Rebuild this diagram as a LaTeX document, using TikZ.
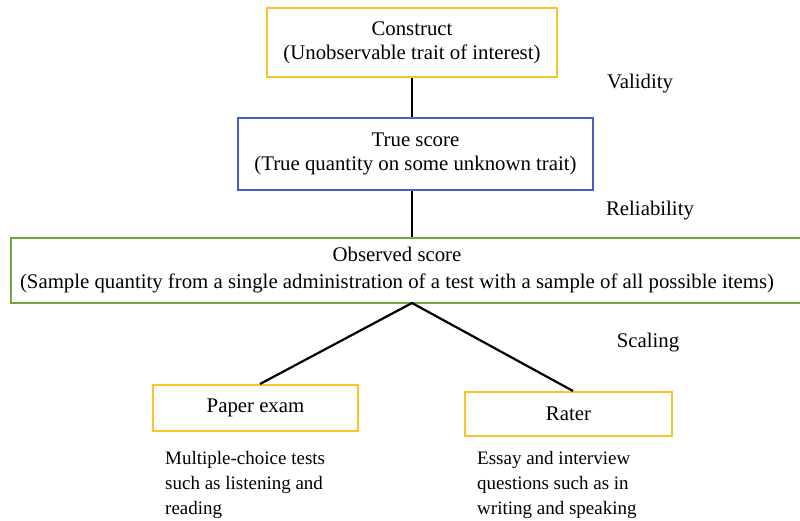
\documentclass[tikz,border=0pt]{standalone}
\usepackage{fontspec}
\setmainfont{Liberation Serif}
\usetikzlibrary{calc}
\definecolor{gold}{RGB}{250,196,40}
\definecolor{blueb}{RGB}{70,95,205}
\definecolor{greenb}{RGB}{112,170,62}
\tikzset{
  box/.style={draw, line width=2bp, minimum width=#1, inner sep=0pt, align=center,
    font=\fontsize{20.8bp}{24bp}\selectfont},
  conn/.style={draw=black, line width=2.2bp},
  lbl/.style={font=\fontsize{20.8bp}{25bp}\selectfont, inner sep=0pt},
  note/.style={font=\fontsize{19bp}{25bp}\selectfont, inner sep=0pt, align=left, anchor=north west}
}
\begin{document}
\begin{tikzpicture}[x=1bp,y=-1bp]
\clip (0,0) rectangle (800,521);
\useasboundingbox (0,0) rectangle (800,521);
\node[box=290bp, minimum height=69bp, draw=gold] (construct) at (412,42.5)
  {Construct\\(Unobservable trait of interest)};
\node[box=355bp, minimum height=72bp, draw=blueb] (true) at (415.5,154)
  {True score\\(True quantity on some unknown trait)};
\node[box=792bp, minimum height=65bp, draw=greenb] (observed) at (407,270.5) {};
\node[lbl, align=center, font=\fontsize{20.8bp}{27bp}\selectfont] (obstext) at (397,270.5)
  {Observed score\\(Sample quantity from a single administration of a test with a sample of all possible items)};
\node[box=205bp, minimum height=46bp, draw=gold] (paper) at (255.5,408) {Paper exam};
\node[box=207bp, minimum height=44bp, draw=gold] (rater) at (568.5,414) {Rater};
\node[lbl] (validity) at (640,84) {Validity};
\node[lbl] (reliability) at (650,211) {Reliability};
\node[lbl] (scaling) at (648,343) {Scaling};
\node[note] (papernote) at (165,451) {Multiple-choice tests\\such as listening and\\reading};
\node[note] (raternote) at (477,451) {Essay and interview\\questions such as in\\writing and speaking};
\coordinate (apex) at (412,303);
\draw[conn] (412,0 |- construct.south) -- (412,0 |- true.north);
\draw[conn] (412,0 |- true.south) -- (412,0 |- observed.north);
\draw[conn] ($(paper.north)+(4.5,0)$) -- (apex) -- ($(rater.north)+(4.5,0)$);
\end{tikzpicture}
\end{document}
